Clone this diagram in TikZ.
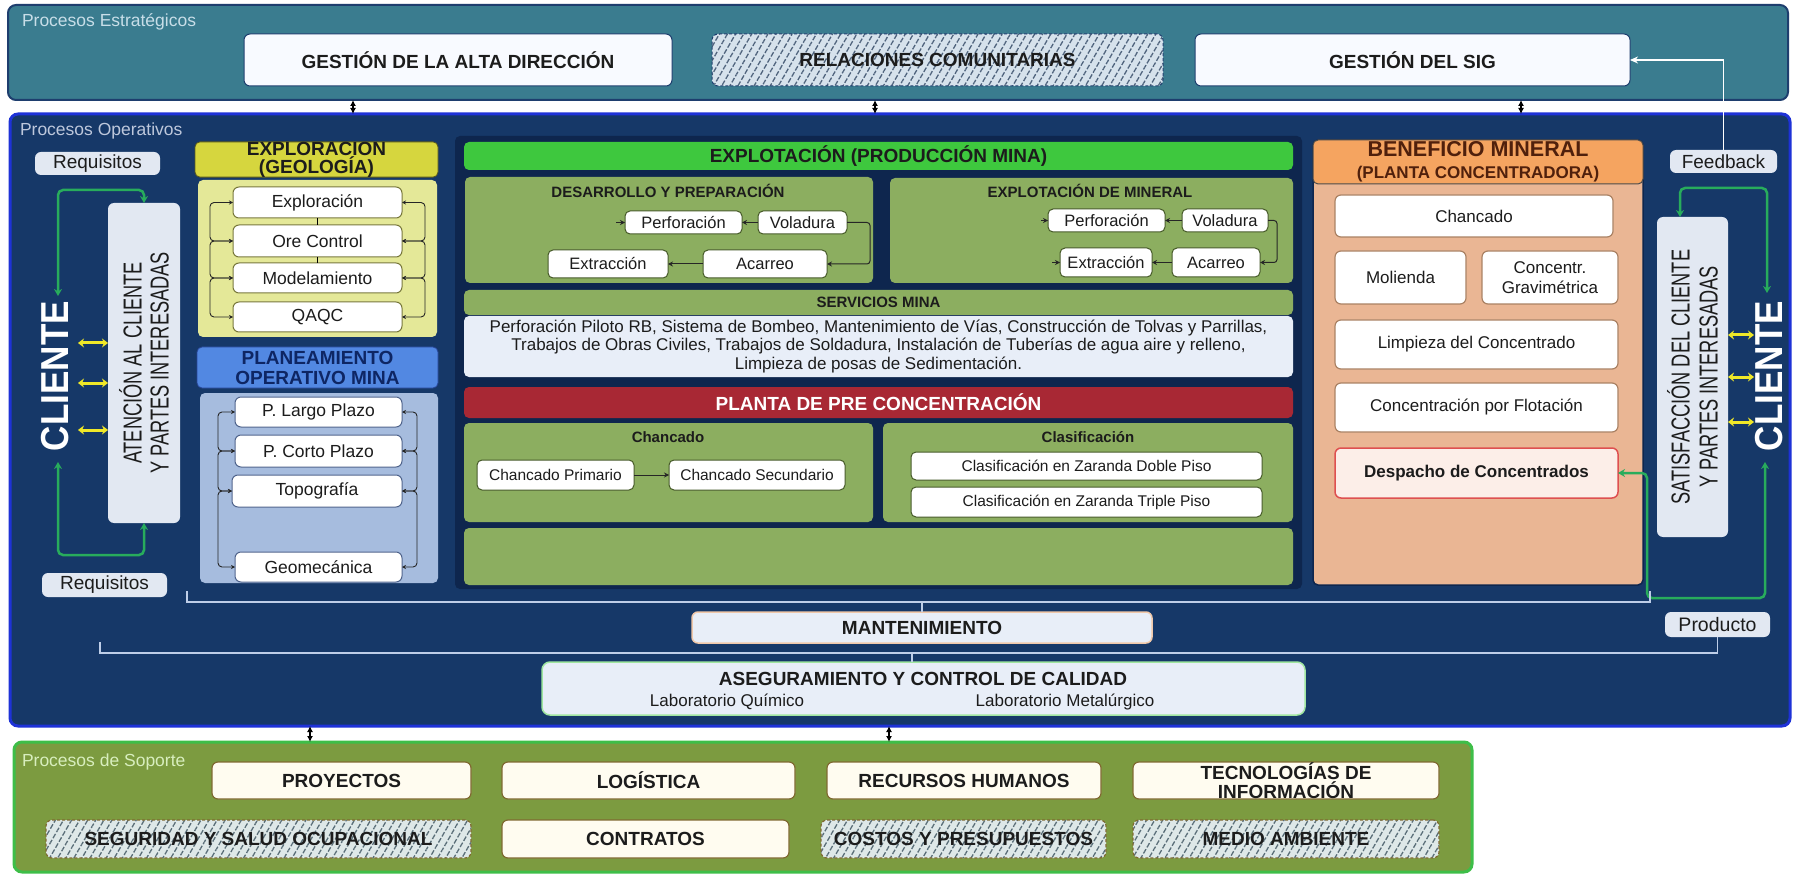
\documentclass[tikz,border=0pt]{standalone}
\usepackage{fontspec}
\usepackage{graphicx}
\setmainfont{Liberation Sans}
\usetikzlibrary{arrows.meta,patterns.meta}

\definecolor{strat}{RGB}{58,124,143}
\definecolor{stratB}{RGB}{30,62,110}
\definecolor{stratlbl}{RGB}{200,222,232}
\definecolor{oper}{RGB}{22,56,104}
\definecolor{operB}{RGB}{30,50,215}
\definecolor{operD}{RGB}{14,38,78}
\definecolor{operlbl}{RGB}{190,200,220}
\definecolor{sop}{RGB}{124,155,64}
\definecolor{sopB}{RGB}{62,190,72}
\definecolor{soplbl}{RGB}{216,238,190}
\definecolor{wbox}{RGB}{248,250,255}
\definecolor{hatchbg}{RGB}{214,226,236}
\definecolor{hatchln}{RGB}{80,100,125}
\definecolor{yhead}{RGB}{214,214,62}
\definecolor{ypanel}{RGB}{228,232,152}
\definecolor{bhead}{RGB}{82,136,226}
\definecolor{bpanel}{RGB}{166,188,222}
\definecolor{ghead}{RGB}{62,200,62}
\definecolor{olive}{RGB}{140,174,96}
\definecolor{svc}{RGB}{232,238,248}
\definecolor{rhead}{RGB}{168,40,52}
\definecolor{ohead}{RGB}{245,164,96}
\definecolor{peach}{RGB}{234,182,148}
\definecolor{desp}{RGB}{252,238,232}
\definecolor{despB}{RGB}{222,80,80}
\definecolor{lbl}{RGB}{226,232,242}
\definecolor{gline}{RGB}{40,172,92}
\definecolor{yarr}{RGB}{240,232,40}
\definecolor{bline}{RGB}{190,206,232}
\definecolor{txt}{RGB}{28,28,28}
\definecolor{navytxt}{RGB}{14,38,100}
\definecolor{browntxt}{RGB}{80,32,12}
\definecolor{sopbox}{RGB}{255,252,240}
\definecolor{sopboxB}{RGB}{128,106,50}
\definecolor{sophbg}{RGB}{222,232,232}
\definecolor{mantB}{RGB}{240,200,170}
\definecolor{asegB}{RGB}{160,230,160}

\newcommand{\fsz}[2]{\fontsize{#1}{#2}\selectfont}
\newcommand{\mybox}[7]{\node[#6, minimum width={#4-#2}, minimum height={#5-#3}] (#1) at ({(#2+#4)/2},{(#3+#5)/2}) {#7};}

\tikzset{
  base/.style={inner sep=0pt, outer sep=0pt, align=center, text=txt},
  band/.style={base, rounded corners=8pt},
  wb/.style={base, rounded corners=6pt, fill=wbox, draw=stratB, line width=1pt, font=\bfseries\fsz{19}{21}},
  hb/.style={base, rounded corners=6pt, preaction={fill=hatchbg}, pattern={Lines[angle=60,distance=7pt,line width=1.3pt]}, pattern color=hatchln, draw=stratB, densely dashed, line width=1pt, font=\bfseries\fsz{19}{21}},
  lb/.style={base, rounded corners=6pt, fill=lbl, font=\fsz{19}{21}},
  yb/.style={base, rounded corners=6pt, fill=white, draw={rgb,255:red,120;green,120;blue,60}, line width=1pt, font=\fsz{17.5}{19}},
  bb/.style={base, rounded corners=6pt, fill=white, draw={rgb,255:red,80;green,100;blue,140}, line width=1pt, font=\fsz{17.5}{19}},
  sm/.style={base, rounded corners=5pt, fill=white, draw={rgb,255:red,70;green,90;blue,40}, line width=1pt, font=\fsz{16.5}{18}},
  cmbox/.style={sm, font=\fsz{15.5}{17}},
  pb/.style={base, rounded corners=6pt, fill=white, draw={rgb,255:red,170;green,130;blue,100}, line width=1.2pt, font=\fsz{17}{20}},
  sb/.style={base, rounded corners=6pt, fill=sopbox, draw=sopboxB, line width=1.2pt, font=\bfseries\fsz{19}{19}},
  sh/.style={base, rounded corners=6pt, preaction={fill=sophbg}, pattern={Lines[angle=60,distance=7pt,line width=1.3pt]}, pattern color={rgb,255:red,90;green,110;blue,120}, draw=sopboxB, densely dashed, line width=1.2pt, font=\bfseries\fsz{19}{19}},
  panel/.style={base, rounded corners=5pt},
  tick/.style={draw=black, line width=1.5pt, {Latex[length=6pt,width=6pt]}-{Latex[length=6pt,width=6pt]}},
  brk/.style={draw=black!85, line width=0.9pt, rounded corners=4pt, {Stealth[length=4pt,width=4pt]}-{Stealth[length=4pt,width=4pt]}},
  arr/.style={draw=black!85, line width=1pt, -{Stealth[length=5pt,width=5pt]}},
  gl/.style={draw=gline, line width=2.5pt, rounded corners=5pt, {Stealth[length=7pt,width=8pt]}-{Stealth[length=7pt,width=8pt]}},
  ya/.style={draw=yarr, line width=3pt, {Stealth[length=6pt,width=9pt]}-{Stealth[length=6pt,width=9pt]}},
  bl/.style={draw=bline, line width=1.6pt},
}

\begin{document}
\begin{tikzpicture}[x=1pt, y=-1pt]
\useasboundingbox (0,0) rectangle (1793,874);
\fill[white] (0,0) rectangle (1793,874);

% ---------------- bands
\mybox{stratband}{8}{5}{1788}{100}{band, fill=strat, draw=stratB, line width=2pt}{}
\mybox{operband}{10}{114}{1790}{726}{band, fill=oper, draw=operB, line width=3pt}{}
\mybox{sopband}{14}{742}{1472}{872}{band, fill=sop, draw=sopB, line width=3pt}{}

\node[base, anchor=west, font=\fsz{17.5}{19}, text=stratlbl] (lstrat) at (22,22) {Procesos Estratégicos};
\node[base, anchor=west, font=\fsz{17.5}{19}, text=operlbl] (loper) at (20,131) {Procesos Operativos};
\node[base, anchor=west, font=\fsz{17.5}{19}, text=soplbl] (lsop) at (22,762) {Procesos de Soporte};

% ---------------- strategic boxes
\mybox{gad}{244}{34}{672}{86}{wb}{GESTIÓN DE LA ALTA DIRECCIÓN}
\mybox{rc}{712}{34}{1163}{86}{hb}{RELACIONES COMUNITARIAS}
\mybox{sig}{1195}{34}{1630}{86}{wb}{GESTIÓN DEL SIG}

\coordinate (s1) at (353,100); \coordinate (o1) at (353,114);
\coordinate (s2) at (875,100); \coordinate (o2) at (875,114);
\coordinate (s3) at (1521,100); \coordinate (o3) at (1521,114);
\draw[tick] (s1) -- (o1);
\draw[tick] (s2) -- (o2);
\draw[tick] (s3) -- (o3);

% ---------------- middle dark panel
\mybox{midp}{455}{136}{1302}{589}{panel, fill=operD}{}

% ---------------- left column
\mybox{req1}{35}{152}{160}{175}{lb}{Requisitos}
\mybox{req2}{42}{573}{167}{597}{lb}{Requisitos}
\mybox{atn}{108}{203}{180}{523}{lb}{}
\node[base, rotate=90, font=\fsz{26}{27}] (atnT) at (atn.center) {\scalebox{0.7}[1]{ATENCIÓN AL CLIENTE}\\\scalebox{0.7}[1]{Y PARTES INTERESADAS}};
\node[base, rotate=90, font=\bfseries\fsz{39}{39}, text=white] (cliL) at (55,376) {\scalebox{0.9}[1]{CLIENTE}};

\coordinate (clLt) at (58,296); \coordinate (clLb) at (58,462);
\draw[gl] (clLt) |- (atn.north |- 0,190) -- (atn.north);
\draw[gl] (atn.south) -- (atn.south |- 0,555) -| (clLb);
\foreach \yy in {343,383,430} \draw[ya] (atn.west |- 0,\yy) -- (78,\yy);

% exploration
\mybox{exh}{195}{142}{438}{177}{panel, fill=yhead, draw={rgb,255:red,90;green,90;blue,30}, line width=0.8pt, font=\bfseries\fsz{19}{17}}{EXPLORACION\\(GEOLOGÍA)}
\mybox{exp}{198}{180}{437}{337}{panel, fill=ypanel}{}
\mybox{y1}{233}{187}{402}{218}{yb}{Exploración}
\mybox{y2}{233}{225}{402}{257}{yb}{Ore Control}
\mybox{y3}{233}{263}{402}{293}{yb}{Modelamiento}
\mybox{y4}{233}{302}{402}{332}{yb}{QAQC}
\draw[line width=1.6pt] (y1.south) -- (y2.north);
\draw[line width=1.6pt] (y2.south) -- (y3.north);
\draw[brk] (y1.west) -- ++(-23,0) |- (y2.west);
\draw[brk] (y2.west) -- ++(-23,0) |- (y3.west);
\draw[brk] (y3.west) -- ++(-23,0) |- (y4.west);
\draw[brk] (y1.east) -- ++(23,0) |- (y2.east);
\draw[brk] (y2.east) -- ++(23,0) |- (y3.east);
\draw[brk] (y3.east) -- ++(23,0) |- (y4.east);

% planning
\mybox{plh}{197}{347}{438}{388}{panel, fill=bhead, draw={rgb,255:red,40;green,70;blue,150}, line width=0.8pt, font=\bfseries\fsz{19}{20}, text=navytxt}{PLANEAMIENTO\\OPERATIVO MINA}
\mybox{plp}{200}{393}{438}{583}{panel, fill=bpanel}{}
\mybox{b1}{235}{397}{402}{427}{bb}{P. Largo Plazo}
\mybox{b2}{235}{435}{402}{467}{bb}{P. Corto Plazo}
\mybox{b3}{232}{475}{402}{507}{bb}{Topografía}
\mybox{b4}{235}{552}{402}{582}{bb}{Geomecánica}
\draw[brk] (b1.west) -- ++(-17,0) |- (b2.west);
\draw[brk] (b2.west) -- ++(-17,0) |- (b3.west);
\draw[brk] (b3.west) -- ++(-14,0) |- (b4.west);
\draw[brk] (b1.east) -- ++(15,0) |- (b2.east);
\draw[brk] (b2.east) -- ++(15,0) |- (b3.east);
\draw[brk] (b3.east) -- ++(15,0) |- (b4.east);

% ---------------- middle column
\mybox{exph}{464}{142}{1293}{170}{panel, fill=ghead, font=\bfseries\fsz{19}{21}}{EXPLOTACIÓN (PRODUCCIÓN MINA)}
\mybox{desp1}{465}{177}{873}{283}{panel, fill=olive}{}
\node[base, font=\bfseries\fsz{15}{17}] (desT) at (668,191) {DESARROLLO Y PREPARACIÓN};
\mybox{dperf}{625}{211}{742}{234}{sm}{Perforación}
\mybox{dvol}{758}{211}{847}{234}{sm}{Voladura}
\mybox{dext}{548}{250}{668}{278}{sm}{Extracción}
\mybox{daca}{703}{250}{827}{278}{sm}{Acarreo}
\draw[arr] (dvol.west) -- (dperf.east);
\draw[arr, rounded corners=3pt] (dvol.east) -- ++(23,0) |- (daca.east);
\draw[arr] (daca.west) -- (dext.east);
\draw[arr] ([xshift=-9pt]dperf.west) -- (dperf.west);

\mybox{expm}{890}{178}{1293}{283}{panel, fill=olive}{}
\node[base, font=\bfseries\fsz{15}{17}] (exmT) at (1090,191) {EXPLOTACIÓN DE MINERAL};
\mybox{mperf}{1048}{209}{1165}{232}{sm}{Perforación}
\mybox{mvol}{1182}{209}{1268}{232}{sm}{Voladura}
\mybox{mext}{1060}{248}{1152}{277}{sm}{Extracción}
\mybox{maca}{1172}{248}{1260}{277}{sm}{Acarreo}
\draw[arr] (mvol.west) -- (mperf.east);
\draw[arr, rounded corners=3pt] (mvol.east) -- ++(9,0) |- (maca.east);
\draw[arr] (maca.west) -- (mext.east);
\draw[arr] ([xshift=-7pt]mperf.west) -- (mperf.west);
\draw[arr] ([xshift=-8pt]mext.west) -- (mext.west);

\mybox{svh}{464}{290}{1293}{315}{panel, fill=olive, font=\bfseries\fsz{15}{17}}{SERVICIOS MINA}
\mybox{svt}{464}{316}{1293}{377}{panel, fill=svc, font=\fsz{17}{18.5}}{Perforación Piloto RB, Sistema de Bombeo, Mantenimiento de Vías, Construcción de Tolvas y Parrillas,\\Trabajos de Obras Civiles, Trabajos de Soldadura, Instalación de Tuberías de agua aire y relleno,\\Limpieza de posas de Sedimentación.}

\mybox{pph}{464}{387}{1293}{418}{panel, fill=rhead, font=\bfseries\fsz{19}{21}, text=white}{PLANTA DE PRE CONCENTRACIÓN}
\mybox{chp}{464}{423}{873}{522}{panel, fill=olive}{}
\node[base, font=\bfseries\fsz{15}{17}] (chT) at (668,437) {Chancado};
\mybox{cprim}{477}{460}{634}{490}{cmbox}{Chancado Primario}
\mybox{csec}{669}{460}{845}{490}{cmbox}{Chancado Secundario}
\draw[arr] (cprim.east) -- (csec.west);
\mybox{clp}{883}{423}{1293}{522}{panel, fill=olive}{}
\node[base, font=\bfseries\fsz{15}{17}] (clT) at (1088,437) {Clasificación};
\mybox{zd}{911}{452}{1262}{480}{cmbox}{Clasificación en Zaranda Doble Piso}
\mybox{zt}{911}{487}{1262}{517}{cmbox}{Clasificación en Zaranda Triple Piso}
\mybox{emp}{464}{528}{1293}{585}{panel, fill=olive}{}

% ---------------- right column
\mybox{benp}{1313}{140}{1643}{585}{panel, fill=peach, draw=operD, line width=1.5pt}{}
\mybox{benh}{1313}{140}{1643}{184}{panel, fill=ohead, draw=black!70, line width=1pt, text=browntxt, font=\bfseries\fsz{21.5}{22}}{BENEFICIO MINERAL\\{\fsz{17}{22}(PLANTA CONCENTRADORA)}}
\mybox{p1}{1335}{195}{1613}{237}{pb}{Chancado}
\mybox{p2}{1335}{251}{1466}{304}{pb}{Molienda}
\mybox{p3}{1482}{251}{1618}{304}{pb}{Concentr.\\Gravimétrica}
\mybox{p4}{1335}{320}{1618}{369}{pb}{Limpieza del Concentrado}
\mybox{p5}{1335}{383}{1618}{432}{pb}{Concentración por Flotación}
\mybox{desp}{1335}{448}{1618}{498}{pb, fill=desp, draw=despB, line width=1.5pt, font=\bfseries\fsz{17}{20}}{Despacho de Concentrados}

\mybox{fb}{1670}{150}{1777}{173}{lb}{Feedback}
\mybox{prod}{1665}{612}{1770}{637}{lb, font=\fsz{19.5}{21}}{Producto}
\mybox{sat}{1657}{217}{1728}{537}{lb}{}
\node[base, rotate=90, font=\fsz{26}{28}] (satT) at (sat.center) {\scalebox{0.7}[1]{SATISFACCIÓN DEL CLIENTE}\\\scalebox{0.7}[1]{Y PARTES INTERESADAS}};
\node[base, rotate=90, font=\bfseries\fsz{39}{39}, text=white] (cliR) at (1769,376) {\scalebox{0.9}[1]{CLIENTE}};

\coordinate (clRt) at (1767,293); \coordinate (clRb) at (1765,462);
\draw[gl] (clRt) |- (1680,188) -- (1680,217);
\draw[gl] (desp.east) -| (1647,598) -| (clRb);
\foreach \yy in {335,377,422} \draw[ya] (sat.east |- 0,\yy) -- (1754,\yy);
\draw[white, line width=1.8pt, -{Stealth[length=8pt,width=7pt]}] (fb.north) |- (sig.east);

% ---------------- maintenance / QA
\mybox{mant}{692}{612}{1152}{643}{base, rounded corners=6pt, fill=svc, draw=mantB, line width=1.5pt, font=\bfseries\fsz{19}{21}}{MANTENIMIENTO}
\mybox{aseg}{542}{662}{1305}{715}{base, rounded corners=8pt, fill=svc, draw=asegB, line width=1.5pt}{}
\node[base, font=\bfseries\fsz{19}{21}] (asegT) at (923,679) {ASEGURAMIENTO Y CONTROL DE CALIDAD};
\node[base, font=\fsz{17}{18}] (labq) at (727,702) {Laboratorio Químico};
\node[base, font=\fsz{17}{18}] (labm) at (1065,702) {Laboratorio Metalúrgico};

\coordinate (l1a) at (187,591); \coordinate (l1b) at (1650,591);
\draw[bl] (l1a) |- (mant.north |- 0,602) -| (l1b);
\draw[bl] (mant.north |- 0,602) -- (mant.north);
\coordinate (l2a) at (100,642);
\draw[bl] (l2a) |- (prod.south |- 0,653) -- (prod.south);
\draw[bl] (aseg.north -| 912,0) -- (912,653);

% ---------------- support
\coordinate (o4) at (310,726); \coordinate (p4c) at (310,742);
\coordinate (o5) at (889,726); \coordinate (p5c) at (889,742);
\draw[tick] (o4) -- (p4c);
\draw[tick] (o5) -- (p5c);

\mybox{proy}{212}{762}{471}{799}{sb}{PROYECTOS}
\mybox{logi}{502}{762}{795}{799}{sb}{LOGÍSTICA}
\mybox{rrhh}{827}{762}{1101}{799}{sb}{RECURSOS HUMANOS}
\mybox{tic}{1133}{762}{1439}{799}{sb}{TECNOLOGÍAS DE\\INFORMACIÓN}
\mybox{seg}{46}{820}{471}{858}{sh}{SEGURIDAD Y SALUD OCUPACIONAL}
\mybox{cont}{502}{820}{789}{858}{sb}{CONTRATOS}
\mybox{cost}{821}{820}{1106}{858}{sh}{COSTOS Y PRESUPUESTOS}
\mybox{medio}{1133}{820}{1439}{858}{sh}{MEDIO AMBIENTE}
\end{tikzpicture}
\end{document}
